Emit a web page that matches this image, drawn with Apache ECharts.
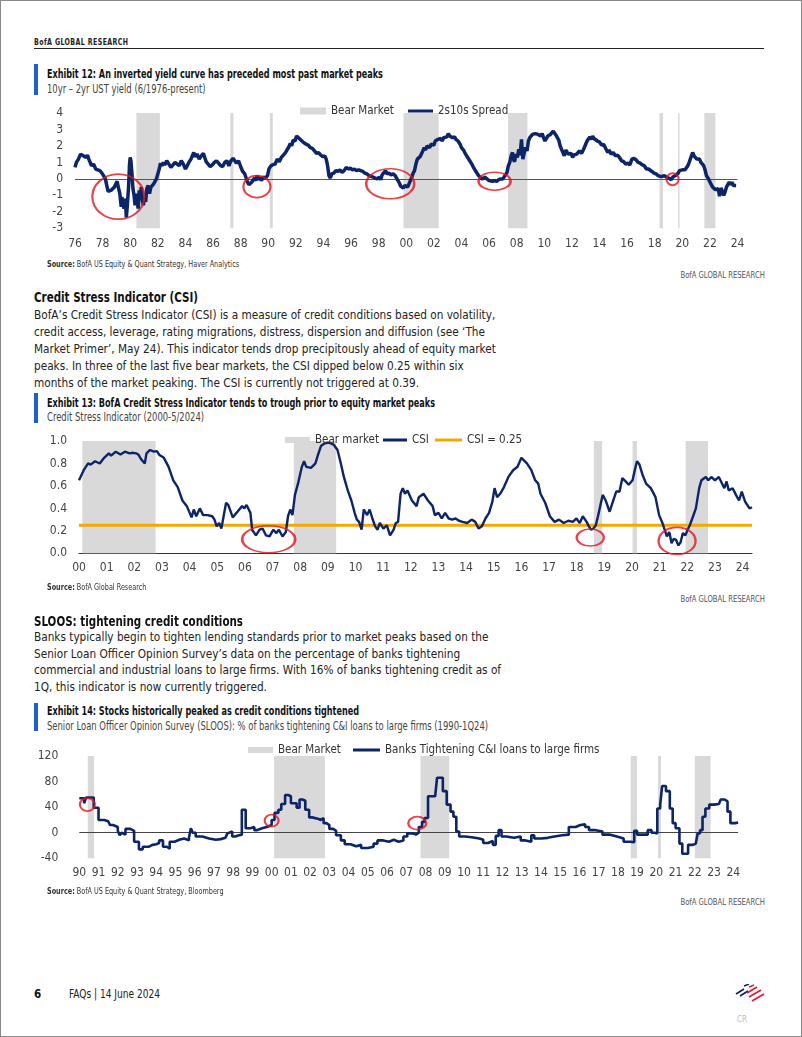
<!DOCTYPE html>
<html><head><meta charset="utf-8">
<script src="https://cdn.jsdelivr.net/npm/echarts@6/dist/echarts.min.js"></script>
<style>
html,body{margin:0;padding:0;background:#fff;}
#page{position:relative;width:802px;height:1037px;overflow:hidden;font-family:'DejaVu Sans Condensed','DejaVu Sans',sans-serif;color:#222;}
#frame{position:absolute;left:0;top:0;width:800px;height:1035px;border:1px solid #8a8a8a;pointer-events:none;z-index:10;}
.t{position:absolute;white-space:nowrap;transform-origin:0 50%;}
.bar{position:absolute;left:34px;width:4px;background:#1f5fcf;}
.ttl{left:47px;font-weight:bold;font-size:12px;color:#111;line-height:14px;transform:scaleX(0.75);}
.sub{left:47px;font-size:12px;color:#444;line-height:14px;transform:scaleX(0.78);}
.src{left:47px;font-size:8px;color:#333;line-height:10px;transform:scaleX(0.9);}
.grr{right:37px;font-size:8px;color:#555;line-height:10px;transform:scaleX(0.95);transform-origin:100% 50%;}
.h{left:34px;font-weight:bold;font-size:14px;color:#111;line-height:16px;transform:scaleX(0.82);}
.p{left:34px;font-size:13px;color:#222;transform:scaleX(0.9);transform-origin:0 0;}
.chart{position:absolute;left:0;width:802px;}
</style></head>
<body><div id="page">
<div id="frame"></div>
<div class="t" style="left:34px;top:37px;font-size:8.5px;font-weight:bold;letter-spacing:0.5px;line-height:10px;color:#222;transform:scaleX(0.82);">BofA GLOBAL RESEARCH</div>
<div style="position:absolute;left:34px;top:47.5px;width:730px;height:1.5px;background:#222;"></div>

<div class="bar" style="top:64px;height:31px;"></div>
<div class="t ttl" style="top:66.5px;">Exhibit 12: An inverted yield curve has preceded most past market peaks</div>
<div class="t sub" style="top:82px;">10yr – 2yr UST yield (6/1976-present)</div>
<div id="c1" class="chart" style="top:95px;height:165px;"></div>
<div class="t src" style="top:260px;"><b>Source:</b> BofA US Equity &amp; Quant Strategy, Haver Analytics</div>
<div class="t grr" style="top:271px;">BofA GLOBAL RESEARCH</div>

<div class="t h" style="top:289px;">Credit Stress Indicator (CSI)</div>
<div class="t p" style="top:305.5px;line-height:17px;">BofA’s Credit Stress Indicator (CSI) is a measure of credit conditions based on volatility,<br>credit access, leverage, rating migrations, distress, dispersion and diffusion (see ‘The<br>Market Primer’, May 24). This indicator tends drop precipitously ahead of equity market<br>peaks. In three of the last five bear markets, the CSI dipped below 0.25 within six<br>months of the market peaking. The CSI is currently not triggered at 0.39.</div>

<div class="bar" style="top:393px;height:30px;"></div>
<div class="t ttl" style="top:395.5px;">Exhibit 13: BofA Credit Stress Indicator tends to trough prior to equity market peaks</div>
<div class="t sub" style="top:410px;">Credit Stress Indicator (2000-5/2024)</div>
<div id="c2" class="chart" style="top:425px;height:160px;"></div>
<div class="t src" style="top:583px;"><b>Source:</b> BofA Global Research</div>
<div class="t grr" style="top:595px;">BofA GLOBAL RESEARCH</div>

<div class="t h" style="top:613px;">SLOOS: tightening credit conditions</div>
<div class="t p" style="top:629px;line-height:16.7px;">Banks typically begin to tighten lending standards prior to market peaks based on the<br>Senior Loan Officer Opinion Survey’s data on the percentage of banks tightening<br>commercial and industrial loans to large firms. With 16% of banks tightening credit as of<br>1Q, this indicator is now currently triggered.</div>

<div class="bar" style="top:703px;height:28px;"></div>
<div class="t ttl" style="top:704px;">Exhibit 14: Stocks historically peaked as credit conditions tightened</div>
<div class="t sub" style="top:719px;">Senior Loan Officer Opinion Survey (SLOOS): % of banks tightening C&amp;I loans to large firms (1990-1Q24)</div>
<div id="c3" class="chart" style="top:740px;height:150px;"></div>
<div class="t src" style="top:887px;"><b>Source:</b> BofA US Equity &amp; Quant Strategy, Bloomberg</div>
<div class="t grr" style="top:898px;">BofA GLOBAL RESEARCH</div>

<div class="t" style="left:34px;top:987px;font-size:11.5px;font-weight:bold;line-height:14px;color:#111;">6</div>
<div class="t" style="left:69px;top:987px;font-size:11.5px;line-height:14px;color:#222;transform:scaleX(0.875);">FAQs | 14 June 2024</div>
<svg style="position:absolute;left:733px;top:984px;" width="34" height="20" viewBox="0 0 34 20">
 <g stroke-linecap="butt" fill="none">
  <path d="M3 10 L11 5" stroke="#012169" stroke-width="1.6"/>
  <path d="M7 12 L15 7" stroke="#012169" stroke-width="1.6"/>
  <path d="M11 2 L16 0" stroke="#012169" stroke-width="1.4"/>
  <path d="M16 3 L21 1" stroke="#e31837" stroke-width="1.4"/>
  <path d="M14 9 L24 3" stroke="#e31837" stroke-width="1.8"/>
  <path d="M16 13 L28 6" stroke="#e31837" stroke-width="1.8"/>
  <path d="M19 17 L31 10" stroke="#e31837" stroke-width="1.8"/>
 </g>
</svg>
<div class="t" style="left:737px;top:1015px;font-size:8px;color:#bbb;line-height:10px;">CR</div>
</div>
<script>
// ---------------- DATA ----------------
// Exhibit 12: 10yr-2yr spread [decimal year, %]
const spreadSeries = [[1976.5,0.7],[1976.6,1.0],[1976.75,1.2],[1976.9,1.5],[1977.0,1.6],[1977.1,1.4],[1977.2,1.5],[1977.3,1.3],[1977.4,1.45],[1977.5,1.2],[1977.6,1.0],[1977.7,0.8],[1977.85,0.9],[1978.0,0.6],[1978.15,0.55],[1978.3,0.5],[1978.45,0.35],[1978.6,0.15],[1978.7,0.0],[1978.8,-0.4],[1978.9,-0.75],[1979.0,-0.85],[1979.1,-0.7],[1979.2,-0.8],[1979.35,-0.5],[1979.45,-0.6],[1979.55,-0.15],[1979.65,-0.55],[1979.75,-0.9],[1979.85,-1.7],[1979.9,-1.1],[1979.95,-1.4],[1980.05,-1.8],[1980.15,-1.2],[1980.22,-2.35],[1980.3,-1.5],[1980.38,-0.5],[1980.45,0.9],[1980.5,1.3],[1980.55,1.1],[1980.62,0.4],[1980.7,-0.6],[1980.78,-1.0],[1980.85,-1.6],[1980.92,-0.9],[1981.0,-1.4],[1981.08,-1.8],[1981.15,-0.7],[1981.22,-1.2],[1981.3,-0.5],[1981.38,-1.3],[1981.45,-1.6],[1981.55,-1.1],[1981.62,-1.4],[1981.7,-0.6],[1981.8,-0.4],[1981.9,-0.9],[1982.0,-0.5],[1982.1,-0.6],[1982.2,-0.3],[1982.3,-0.4],[1982.4,0.0],[1982.5,0.3],[1982.6,0.6],[1982.7,0.95],[1982.8,0.8],[1982.9,1.0],[1983.0,0.85],[1983.15,1.1],[1983.3,0.9],[1983.45,0.7],[1983.6,0.85],[1983.75,1.0],[1983.9,0.9],[1984.05,0.8],[1984.2,1.1],[1984.35,0.9],[1984.5,0.6],[1984.6,0.75],[1984.75,1.0],[1984.9,1.2],[1985.0,1.4],[1985.1,1.6],[1985.2,1.35],[1985.35,1.5],[1985.5,1.2],[1985.65,1.4],[1985.8,1.55],[1985.9,1.3],[1986.0,1.05],[1986.15,0.9],[1986.3,0.75],[1986.45,0.85],[1986.6,1.0],[1986.75,1.1],[1986.9,0.95],[1987.05,0.8],[1987.2,0.75],[1987.35,1.0],[1987.5,1.1],[1987.65,0.8],[1987.8,1.1],[1987.95,1.25],[1988.05,1.2],[1988.2,0.95],[1988.35,1.1],[1988.5,0.75],[1988.65,0.45],[1988.8,0.3],[1988.9,0.05],[1989.0,-0.2],[1989.1,-0.35],[1989.2,-0.45],[1989.3,-0.2],[1989.4,-0.3],[1989.5,0.05],[1989.6,-0.1],[1989.7,0.2],[1989.8,-0.05],[1989.9,0.1],[1990.0,-0.1],[1990.15,0.1],[1990.3,0.05],[1990.45,0.2],[1990.55,0.6],[1990.65,0.75],[1990.8,0.85],[1991.0,0.9],[1991.15,1.2],[1991.3,1.05],[1991.45,1.3],[1991.6,1.45],[1991.75,1.6],[1991.85,1.55],[1992.0,1.95],[1992.1,2.15],[1992.2,2.0],[1992.3,2.35],[1992.45,2.3],[1992.55,2.6],[1992.65,2.7],[1992.75,2.45],[1992.85,2.55],[1993.0,2.25],[1993.1,2.35],[1993.25,2.1],[1993.4,2.05],[1993.55,1.9],[1993.7,1.85],[1993.85,1.7],[1994.0,1.55],[1994.15,1.6],[1994.3,1.45],[1994.45,1.35],[1994.6,1.4],[1994.7,1.2],[1994.8,0.8],[1994.9,0.2],[1995.0,0.05],[1995.1,0.3],[1995.25,0.35],[1995.4,0.5],[1995.55,0.45],[1995.7,0.55],[1995.85,0.4],[1996.0,0.5],[1996.15,0.7],[1996.3,0.6],[1996.45,0.65],[1996.6,0.55],[1996.75,0.6],[1996.9,0.5],[1997.05,0.55],[1997.2,0.5],[1997.35,0.45],[1997.5,0.35],[1997.65,0.3],[1997.8,0.2],[1997.95,0.15],[1998.1,0.1],[1998.25,0.05],[1998.4,0.0],[1998.55,0.1],[1998.65,-0.05],[1998.75,0.25],[1998.85,0.15],[1999.0,0.5],[1999.1,0.3],[1999.25,0.35],[1999.4,0.25],[1999.55,0.3],[1999.7,0.2],[1999.8,0.1],[1999.9,-0.1],[2000.0,-0.25],[2000.1,-0.45],[2000.2,-0.35],[2000.3,-0.55],[2000.4,-0.4],[2000.5,-0.35],[2000.6,-0.5],[2000.7,-0.3],[2000.8,-0.2],[2000.9,0.1],[2001.0,0.35],[2001.1,0.5],[2001.2,0.9],[2001.3,1.2],[2001.4,1.1],[2001.5,1.35],[2001.6,1.3],[2001.7,1.7],[2001.8,1.9],[2001.9,1.75],[2002.0,2.0],[2002.1,2.05],[2002.2,1.9],[2002.3,2.1],[2002.4,2.2],[2002.5,2.05],[2002.6,2.3],[2002.7,2.2],[2002.8,2.4],[2002.9,2.35],[2003.0,2.45],[2003.1,2.3],[2003.2,2.5],[2003.3,2.4],[2003.45,2.55],[2003.55,2.75],[2003.65,2.6],[2003.75,2.7],[2003.85,2.5],[2004.0,2.55],[2004.1,2.4],[2004.25,2.3],[2004.4,2.1],[2004.5,1.9],[2004.65,1.75],[2004.8,1.5],[2004.95,1.3],[2005.1,1.1],[2005.25,0.9],[2005.4,0.65],[2005.55,0.45],[2005.7,0.25],[2005.85,0.1],[2006.0,0.0],[2006.1,-0.05],[2006.2,0.1],[2006.35,0.0],[2006.5,-0.1],[2006.6,0.0],[2006.75,-0.15],[2006.9,-0.1],[2007.05,-0.15],[2007.2,-0.05],[2007.35,0.0],[2007.5,0.0],[2007.6,0.1],[2007.7,0.25],[2007.8,0.4],[2007.9,0.8],[2008.0,1.0],[2008.1,1.4],[2008.2,1.6],[2008.25,1.2],[2008.35,1.05],[2008.45,1.5],[2008.55,1.3],[2008.65,1.8],[2008.75,1.45],[2008.85,2.4],[2008.9,1.7],[2008.95,1.2],[2009.05,1.6],[2009.15,1.9],[2009.25,1.7],[2009.35,2.3],[2009.45,2.5],[2009.55,2.4],[2009.65,2.7],[2009.75,2.6],[2009.85,2.75],[2009.95,2.85],[2010.05,2.7],[2010.15,2.8],[2010.25,2.6],[2010.35,2.75],[2010.45,2.5],[2010.55,2.3],[2010.65,2.45],[2010.75,2.6],[2010.85,2.5],[2010.95,2.7],[2011.05,2.75],[2011.15,2.9],[2011.25,2.8],[2011.35,2.65],[2011.45,2.75],[2011.55,2.35],[2011.65,2.0],[2011.75,2.1],[2011.85,1.6],[2011.95,1.4],[2012.05,1.75],[2012.15,1.8],[2012.25,1.5],[2012.35,1.4],[2012.45,1.55],[2012.55,1.3],[2012.65,1.45],[2012.75,1.35],[2012.85,1.5],[2012.95,1.6],[2013.05,1.7],[2013.2,1.55],[2013.35,1.8],[2013.5,2.1],[2013.6,2.3],[2013.7,2.4],[2013.8,2.55],[2013.9,2.4],[2014.0,2.6],[2014.1,2.45],[2014.2,2.5],[2014.35,2.3],[2014.5,2.25],[2014.65,2.05],[2014.8,2.1],[2014.95,1.85],[2015.1,1.6],[2015.2,1.75],[2015.35,1.5],[2015.5,1.6],[2015.65,1.4],[2015.8,1.45],[2015.95,1.3],[2016.1,1.1],[2016.25,1.05],[2016.4,0.9],[2016.55,0.95],[2016.7,0.85],[2016.85,1.2],[2017.0,1.25],[2017.15,1.15],[2017.3,1.0],[2017.45,0.95],[2017.6,0.85],[2017.75,0.8],[2017.9,0.6],[2018.05,0.6],[2018.15,0.55],[2018.3,0.45],[2018.45,0.35],[2018.6,0.3],[2018.75,0.2],[2018.9,0.15],[2019.05,0.15],[2019.2,0.2],[2019.35,0.1],[2019.5,0.05],[2019.6,0.0],[2019.7,-0.05],[2019.8,0.1],[2019.9,0.2],[2020.0,0.2],[2020.1,0.1],[2020.2,0.35],[2020.3,0.5],[2020.4,0.45],[2020.5,0.55],[2020.6,0.5],[2020.7,0.55],[2020.8,0.6],[2020.9,0.8],[2021.0,1.0],[2021.1,1.25],[2021.25,1.6],[2021.35,1.4],[2021.45,1.3],[2021.55,1.2],[2021.65,1.15],[2021.75,1.2],[2021.85,1.0],[2021.95,0.9],[2022.05,0.8],[2022.15,0.55],[2022.25,0.2],[2022.3,0.3],[2022.4,0.0],[2022.5,-0.1],[2022.6,-0.35],[2022.7,-0.5],[2022.8,-0.4],[2022.9,-0.65],[2023.0,-0.7],[2023.1,-0.6],[2023.2,-1.05],[2023.3,-0.55],[2023.4,-0.75],[2023.5,-1.0],[2023.6,-0.8],[2023.7,-0.5],[2023.8,-0.35],[2023.9,-0.2],[2024.0,-0.35],[2024.1,-0.2],[2024.2,-0.4],[2024.3,-0.3],[2024.4,-0.4]];
const bearStart1 = [1980.95,1987.75,1990.62,2000.3,2007.88,2018.85,2020.2,2022.1];
const bearEnd1   = [1982.65,1987.98,1990.83,2002.85,2009.28,2019.1,2020.3,2022.9];
const circles1   = [[1979.64,-1.08],[1989.68,-0.47],[1999.34,-0.3],[2006.9,-0.14],[2019.8,-0.02]];

// Exhibit 13: Credit Stress Indicator [decimal year, value]
const csiSeries = [[2000.0,0.65],[2000.17,0.74],[2000.33,0.80],[2000.42,0.79],[2000.58,0.82],[2000.75,0.80],[2000.91,0.85],[2001.08,0.89],[2001.16,0.87],[2001.33,0.905],[2001.5,0.88],[2001.66,0.905],[2001.83,0.89],[2001.91,0.895],[2002.08,0.89],[2002.16,0.875],[2002.24,0.84],[2002.38,0.80],[2002.44,0.89],[2002.57,0.92],[2002.71,0.905],[2002.82,0.91],[2002.91,0.875],[2003.07,0.85],[2003.24,0.77],[2003.41,0.65],[2003.57,0.59],[2003.74,0.47],[2003.9,0.42],[2004.07,0.32],[2004.15,0.39],[2004.24,0.33],[2004.37,0.40],[2004.49,0.34],[2004.65,0.34],[2004.82,0.33],[2004.9,0.30],[2004.98,0.24],[2005.07,0.27],[2005.15,0.22],[2005.23,0.33],[2005.32,0.45],[2005.4,0.43],[2005.56,0.32],[2005.73,0.37],[2005.9,0.42],[2005.98,0.40],[2006.06,0.43],[2006.2,0.36],[2006.26,0.21],[2006.4,0.16],[2006.53,0.21],[2006.64,0.22],[2006.76,0.16],[2006.89,0.15],[2007.03,0.21],[2007.14,0.18],[2007.23,0.21],[2007.36,0.15],[2007.48,0.19],[2007.56,0.33],[2007.64,0.39],[2007.72,0.34],[2007.81,0.52],[2007.92,0.62],[2008.06,0.77],[2008.14,0.82],[2008.22,0.77],[2008.39,0.76],[2008.55,0.80],[2008.64,0.875],[2008.75,0.955],[2008.89,0.98],[2009.05,0.985],[2009.22,0.965],[2009.35,0.92],[2009.47,0.80],[2009.58,0.68],[2009.72,0.56],[2009.85,0.47],[2009.97,0.36],[2010.05,0.30],[2010.13,0.28],[2010.22,0.21],[2010.3,0.39],[2010.42,0.34],[2010.51,0.39],[2010.61,0.31],[2010.71,0.24],[2010.8,0.21],[2010.88,0.27],[2011.01,0.22],[2011.13,0.25],[2011.25,0.16],[2011.38,0.21],[2011.46,0.27],[2011.54,0.28],[2011.63,0.53],[2011.71,0.58],[2011.79,0.53],[2011.88,0.56],[2012.04,0.47],[2012.21,0.42],[2012.29,0.50],[2012.46,0.53],[2012.62,0.47],[2012.79,0.42],[2012.87,0.34],[2013.0,0.36],[2013.12,0.31],[2013.24,0.36],[2013.37,0.31],[2013.5,0.30],[2013.62,0.31],[2013.74,0.29],[2013.87,0.28],[2014.04,0.27],[2014.2,0.30],[2014.33,0.28],[2014.45,0.22],[2014.57,0.24],[2014.7,0.31],[2014.83,0.36],[2014.95,0.46],[2015.03,0.58],[2015.12,0.50],[2015.23,0.53],[2015.37,0.59],[2015.53,0.68],[2015.7,0.74],[2015.86,0.77],[2016.0,0.85],[2016.06,0.86],[2016.2,0.80],[2016.36,0.74],[2016.5,0.65],[2016.61,0.62],[2016.69,0.53],[2016.86,0.45],[2017.03,0.33],[2017.2,0.28],[2017.36,0.30],[2017.53,0.27],[2017.7,0.29],[2017.86,0.28],[2017.99,0.31],[2018.11,0.27],[2018.22,0.33],[2018.36,0.28],[2018.44,0.24],[2018.52,0.21],[2018.6,0.22],[2018.69,0.25],[2018.77,0.33],[2018.85,0.42],[2018.94,0.52],[2019.05,0.47],[2019.19,0.37],[2019.32,0.47],[2019.43,0.55],[2019.55,0.55],[2019.65,0.67],[2019.77,0.64],[2019.88,0.61],[2020.02,0.65],[2020.1,0.74],[2020.18,0.82],[2020.27,0.79],[2020.38,0.70],[2020.51,0.62],[2020.68,0.58],[2020.85,0.50],[2020.98,0.34],[2021.1,0.27],[2021.18,0.21],[2021.26,0.15],[2021.35,0.19],[2021.43,0.09],[2021.51,0.13],[2021.59,0.12],[2021.68,0.07],[2021.76,0.10],[2021.84,0.18],[2021.93,0.16],[2022.01,0.21],[2022.09,0.25],[2022.18,0.31],[2022.31,0.40],[2022.43,0.58],[2022.51,0.65],[2022.67,0.68],[2022.76,0.65],[2022.87,0.68],[2023.0,0.65],[2023.14,0.68],[2023.26,0.62],[2023.34,0.58],[2023.42,0.64],[2023.5,0.56],[2023.64,0.58],[2023.76,0.52],[2023.87,0.47],[2023.97,0.55],[2024.09,0.46],[2024.17,0.43],[2024.25,0.40],[2024.34,0.41]];
const csiThreshold = 0.25;
const bearStart2 = [2000.12,2007.77,2018.62,2020.02,2021.94];
const bearEnd2   = [2002.77,2009.3,2018.92,2020.18,2022.75];
const circles2   = [[2006.86,0.125],[2018.49,0.14],[2021.63,0.11]];

// Exhibit 14: SLOOS % banks tightening C&I loans to large firms [decimal year, %]
const sloosSeries = [[1990.0,54],[1990.25,46],[1990.35,55],[1990.75,39],[1991.0,20],[1991.3,18],[1991.5,16],[1991.6,12],[1991.75,9],[1992.0,3],[1992.1,-4],[1992.2,0],[1992.3,-3],[1992.4,6],[1992.65,3],[1992.85,-14],[1993.1,-26],[1993.3,-22],[1993.6,-19],[1993.8,-18],[1994.0,-16],[1994.15,-12],[1994.35,-22],[1994.55,-25],[1994.7,-14],[1994.95,-11],[1995.2,-9],[1995.45,-12],[1995.7,-8],[1995.8,7],[1995.9,0],[1996.05,-6],[1996.4,-9],[1996.75,-11],[1997.1,-10],[1997.35,-8],[1997.6,-7],[1997.7,-1],[1997.8,2],[1997.95,-6],[1998.1,-4],[1998.3,-3],[1998.45,36],[1998.65,7],[1998.9,9],[1999.1,4],[1999.25,7],[1999.5,9],[1999.75,12],[2000.0,20],[2000.15,31],[2000.35,36],[2000.5,45],[2000.7,59],[2000.85,57],[2001.0,46],[2001.3,39],[2001.45,52],[2001.6,50],[2001.75,36],[2001.95,24],[2002.1,22],[2002.4,20],[2002.55,23],[2002.7,15],[2002.85,12],[2003.0,6],[2003.2,3],[2003.35,-4],[2003.6,-12],[2003.8,-18],[2004.1,-21],[2004.4,-19],[2004.65,-24],[2005.0,-22],[2005.3,-17],[2005.5,-12],[2005.8,-14],[2006.1,-11],[2006.35,-14],[2006.6,-12],[2006.85,-6],[2007.05,-1],[2007.35,-3],[2007.5,0],[2007.65,9],[2007.82,17],[2007.95,23],[2008.13,57],[2008.5,59],[2008.6,86],[2008.75,86],[2008.9,65],[2009.1,44],[2009.3,33],[2009.45,25],[2009.6,2],[2009.75,-6],[2010.05,-7],[2010.4,-9],[2010.8,-11],[2011.0,-16],[2011.25,-13],[2011.5,-19],[2011.65,-5],[2011.8,4],[2011.95,-6],[2012.2,-8],[2012.6,-6],[2012.95,-12],[2013.2,-14],[2013.5,-4],[2013.65,-9],[2014.0,-8],[2014.35,-6],[2014.7,-4],[2015.1,-3],[2015.45,9],[2015.8,12],[2016.05,13],[2016.3,9],[2016.5,4],[2016.85,2],[2017.2,-3],[2017.6,-6],[2017.95,-9],[2018.3,-14],[2018.65,-15],[2018.85,3],[2019.0,-3],[2019.4,-3],[2019.55,4],[2019.75,0],[2019.9,-1],[2020.05,38],[2020.2,44],[2020.3,73],[2020.5,65],[2020.7,38],[2020.85,15],[2021.0,7],[2021.2,-17],[2021.35,-33],[2021.5,-33],[2021.65,-19],[2021.9,-17],[2022.05,-14],[2022.15,-1],[2022.27,4],[2022.4,25],[2022.55,38],[2022.75,44],[2023.0,45],[2023.25,46],[2023.35,52],[2023.55,49],[2023.7,33],[2023.85,15],[2024.1,16],[2024.25,16]];
const bearStart3 = [1990.44,2000.13,2007.74,2018.67,2020.09,2022.0];
const bearEnd3   = [1990.77,2002.77,2009.23,2018.99,2020.24,2022.82];
const circles3   = [[1990.42,44],[2000.0,19],[2007.57,15]];

// ---------------- STYLE ----------------
const FONT = "'DejaVu Sans Condensed','DejaVu Sans',sans-serif";
const NAVY = '#0c2468', GRAY = '#d9d9d9', RED = '#e3141b', ORANGE = '#f2a900';
const circleSizes1 = [[52,45],[27,22],[48,30],[32,18],[12,12]];
const circleSizes2 = [[53,27],[27,17],[37,27]];
const circleSizes3 = [[15,13],[14,12],[18,13]];

function bearAreas(s, e){ return s.map((v,i)=>[{xAxis:v},{xAxis:e[i]}]); }
function circleData(pts, sizes){ return pts.map((p,i)=>({value:p, symbolSize:sizes[i]})); }
function circleSeries(pts,sizes){
  return {type:'scatter', data:circleData(pts,sizes), symbol:'circle', silent:true, z:6,
    itemStyle:{color:'rgba(0,0,0,0)', borderColor:RED, borderWidth:2}};
}
const yr2 = v => { const r = Math.round(v*1000)/1000; return Number.isInteger(r) ? String(r%100).padStart(2,'0') : ''; };
const legendText = {color:'#333', fontSize:11.5, fontFamily:FONT};
const axisLbl = {color:'#444', fontSize:12, fontFamily:FONT};
function legend(name, left, top, w, h, color){
  return {data:[{name:name, icon:'rect', itemStyle:{color:color}}], left:left, top:top, padding:0,
    itemWidth:w, itemHeight:h, itemGap:0, textStyle:legendText, selectedMode:false};
}

// ---------------- CHART 1 ----------------
const ch1 = echarts.init(document.getElementById('c1'), null, {renderer:'canvas'});
ch1.setOption({
  animation:false,
  textStyle:{fontFamily:FONT},
  grid:{left:75, right:64.5, top:18, bottom:31.7},
  xAxis:{type:'value', min:1976.5, max:2024.5, interval:2, axisLine:{show:false}, axisTick:{show:false}, splitLine:{show:false},
    axisLabel:Object.assign({margin:10, formatter:v=>String(Math.floor(v)%100).padStart(2,'0')}, axisLbl)},
  yAxis:{type:'value', min:-3, max:4, interval:1, axisLine:{show:false}, axisTick:{show:false}, splitLine:{show:false},
    axisLabel:Object.assign({margin:12}, axisLbl)},
  legend:[legend('Bear Market',300,10,26,7,GRAY), legend('2s10s Spread',408,10,25,3,NAVY)],
  series:[
    {name:'Bear Market', type:'line', data:[], color:GRAY,
      markArea:{silent:true, z:1, itemStyle:{color:GRAY, opacity:1}, data:bearAreas(bearStart1,bearEnd1)},
      markLine:{silent:true, z:2, symbol:'none', label:{show:false}, lineStyle:{color:'#555', width:1, type:'solid'}, data:[{yAxis:0}]}},
    {name:'2s10s Spread', type:'line', data:spreadSeries, showSymbol:false, z:3, color:NAVY,
      lineStyle:{color:NAVY, width:3.5}},
    circleSeries(circles1, circleSizes1)
  ]
});

// ---------------- CHART 2 ----------------
const ch2 = echarts.init(document.getElementById('c2'), null, {renderer:'canvas'});
const csiEnd = csiSeries[csiSeries.length-1][0];
ch2.setOption({
  animation:false,
  textStyle:{fontFamily:FONT},
  grid:{left:79, right:50, top:16, bottom:31.7},
  xAxis:{type:'value', min:2000, max:csiEnd, interval:1, axisLine:{show:true, lineStyle:{color:'#333', width:1.2}}, axisTick:{show:false}, splitLine:{show:false},
    axisLabel:Object.assign({margin:9, formatter:yr2, showMaxLabel:false}, axisLbl)},
  yAxis:{type:'value', min:0, max:1, interval:0.2, axisLine:{show:false}, axisTick:{show:false}, splitLine:{show:false},
    axisLabel:Object.assign({margin:12, formatter:v=>v.toFixed(1)}, axisLbl)},
  legend:[legend('Bear market',285,9,25,6,GRAY), legend('CSI',383,9,24,3,NAVY), legend('CSI = 0.25',435,9,27,3,ORANGE)],
  series:[
    {name:'Bear market', type:'line', data:[], color:GRAY,
      markArea:{silent:true, z:1, itemStyle:{color:GRAY, opacity:1}, data:bearAreas(bearStart2,bearEnd2)}},
    {name:'CSI = 0.25', type:'line', data:[[2000,csiThreshold],[csiEnd,csiThreshold]], showSymbol:false, z:2, color:ORANGE,
      lineStyle:{color:ORANGE, width:3}},
    {name:'CSI', type:'line', data:csiSeries, showSymbol:false, z:3, color:NAVY, lineStyle:{color:NAVY, width:2.4}},
    circleSeries(circles2, circleSizes2)
  ]
});

// ---------------- CHART 3 ----------------
const ch3 = echarts.init(document.getElementById('c3'), null, {renderer:'canvas'});
const slEnd = sloosSeries[sloosSeries.length-1][0];
ch3.setOption({
  animation:false,
  textStyle:{fontFamily:FONT},
  grid:{left:79.3, right:63.9, top:16, bottom:31.7},
  xAxis:{type:'value', min:1990, max:slEnd, interval:1, axisLine:{show:false}, axisTick:{show:false}, splitLine:{show:false},
    axisLabel:Object.assign({margin:9, formatter:yr2, showMaxLabel:false}, axisLbl)},
  yAxis:{type:'value', min:-40, max:120, interval:40, axisLine:{show:false}, axisTick:{show:false}, splitLine:{show:false},
    axisLabel:Object.assign({margin:21}, axisLbl)},
  legend:[legend('Bear Market',248,4,25,6,GRAY), legend('Banks Tightening C&I loans to large firms',353,4,27,3,NAVY)],
  series:[
    {name:'Bear Market', type:'line', data:[], color:GRAY,
      markArea:{silent:true, z:1, itemStyle:{color:GRAY, opacity:1}, data:bearAreas(bearStart3,bearEnd3)},
      markLine:{silent:true, z:2, symbol:'none', label:{show:false}, lineStyle:{color:'#444', width:1, type:'solid'}, data:[{yAxis:0}]}},
    {name:'Banks Tightening C&I loans to large firms', type:'line', step:'end', data:sloosSeries, showSymbol:false, z:3, color:NAVY,
      lineStyle:{color:NAVY, width:2.6}},
    circleSeries(circles3, circleSizes3)
  ]
});
</script>
</body></html>
